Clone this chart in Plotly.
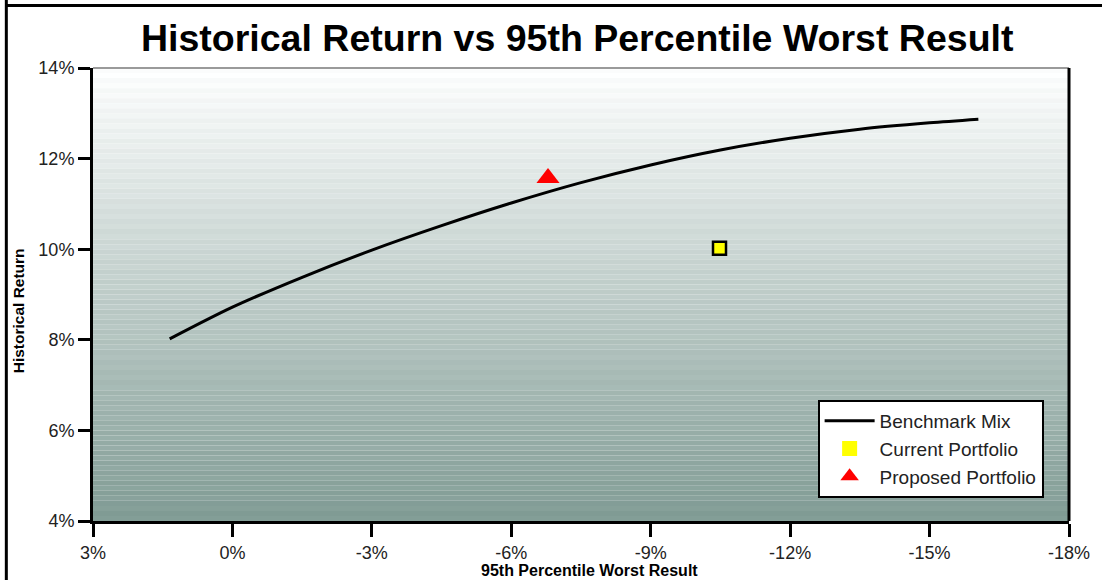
import plotly.graph_objects as go

# ---- data ----
bench_x = [1.35, 0.0, -1.5, -3.0, -4.5, -6.0, -7.5, -9.0, -10.5, -12.0, -13.5, -15.0, -16.05]
bench_y = [8.02, 8.72, 9.38, 9.98, 10.52, 11.02, 11.47, 11.86, 12.19, 12.45, 12.65, 12.79, 12.87]
current_x = [-10.48]
current_y = [10.02]
proposed_x = [-6.79]
proposed_y = [11.57]

x_ticks = [3, 0, -3, -6, -9, -12, -15, -18]
x_labels = ["3%", "0%", "-3%", "-6%", "-9%", "-12%", "-15%", "-18%"]
y_ticks = [4, 6, 8, 10, 12, 14]
y_labels = ["4%", "6%", "8%", "10%", "12%", "14%"]

FONT = "Liberation Sans, Arial, Helvetica, sans-serif"

fig = go.Figure()
fig.add_trace(go.Scatter(x=bench_x, y=bench_y, mode="lines", name="Benchmark Mix",
                         line=dict(color="black", width=3, shape="spline", smoothing=0.8)))
fig.add_trace(go.Scatter(x=current_x, y=current_y, mode="markers", name="Current Portfolio",
                         showlegend=False,
                         marker=dict(symbol="square", size=13, color="#ffff00",
                                     line=dict(color="black", width=2.5))))
fig.add_trace(go.Scatter(x=proposed_x, y=proposed_y, mode="markers", name="Proposed Portfolio",
                         showlegend=False,
                         marker=dict(symbol="triangle-up", size=20, color="#ff0000",
                                     line=dict(width=0))))
# legend entries (legend styling only)
fig.add_trace(go.Scatter(x=[None], y=[None], mode="markers", name="Current Portfolio",
                         marker=dict(symbol="square", size=15, color="#ffff00", line=dict(width=0))))
fig.add_trace(go.Scatter(x=[None], y=[None], mode="markers", name="Proposed Portfolio",
                         marker=dict(symbol="triangle-up", size=18, color="#ff0000", line=dict(width=0))))

# gradient background bands (style only)
shapes = []
n = 90
top = (251, 252, 252)
bot = (127, 154, 147)
for i in range(n):
    t = i / (n - 1)
    c = tuple(int(round(top[k] + (bot[k] - top[k]) * t)) for k in range(3))
    if i % 2 == 1:
        c = tuple(min(255, v + 4) for v in c)
    shapes.append(dict(type="rect", xref="paper", yref="paper", layer="below",
                       x0=0, x1=1, y0=1 - (i + 1) / n, y1=1 - i / n,
                       fillcolor="rgb(%d,%d,%d)" % c, line=dict(width=0)))
# plot frame: top gray, right black
shapes.append(dict(type="line", xref="paper", yref="paper", x0=0, x1=1, y0=1, y1=1,
                   line=dict(color="#9a9a9a", width=2)))
shapes.append(dict(type="line", xref="paper", yref="paper", x0=1, x1=1, y0=0, y1=1,
                   line=dict(color="black", width=3)))
# outer frame (left & top)
shapes.append(dict(type="line", xref="paper", yref="paper", x0=-0.0888, x1=-0.0888, y0=-0.14, y1=1.15,
                   line=dict(color="black", width=3)))
shapes.append(dict(type="line", xref="paper", yref="paper", x0=-0.0888, x1=1.04, y0=1.138, y1=1.138,
                   line=dict(color="black", width=3)))

fig.update_layout(
    width=1102, height=580,
    margin=dict(l=93, r=29, t=68, b=59),
    paper_bgcolor="white",
    plot_bgcolor="rgba(0,0,0,0)",
    font=dict(family=FONT, size=18, color="#222"),
    shapes=shapes,
    showlegend=True,
    legend=dict(x=0.974, y=0.051, xanchor="right", yanchor="bottom",
                bgcolor="white", bordercolor="black", borderwidth=2,
                font=dict(family=FONT, size=19, color="#222"),
                itemwidth=50, tracegroupgap=0),
    annotations=[
        dict(text="<b>Historical Return vs 95th Percentile Worst Result</b>", xref="paper", yref="paper",
             x=0.496, y=1.0 + (68 - 38) / 453, xanchor="center", yanchor="middle", showarrow=False,
             font=dict(family=FONT, size=37.5, color="black")),
        dict(text="<b>95th Percentile Worst Result</b>", xref="paper", yref="paper",
             x=(592 - 93) / 980, y=-(570 - 521) / 453, xanchor="center", yanchor="middle", showarrow=False,
             font=dict(family=FONT, size=16, color="black")),
        dict(text="<b>Historical Return</b>", xref="paper", yref="paper", textangle=-90,
             x=-(93 - 18) / 980, y=(521 - 311) / 453, xanchor="center", yanchor="middle", showarrow=False,
             font=dict(family=FONT, size=15.5, color="black")),
    ],
)
fig.update_xaxes(range=[3, -18], tickvals=x_ticks, ticktext=x_labels, showgrid=False, zeroline=False,
                 showline=True, linecolor="black", linewidth=3, ticks="outside", ticklen=13,
                 tickwidth=3, tickcolor="black", tickfont=dict(size=18, color="#222"))
fig.update_yaxes(range=[4, 14], tickvals=y_ticks, ticktext=y_labels, showgrid=False, zeroline=False,
                 showline=True, linecolor="black", linewidth=3, ticks="outside", ticklen=12,
                 tickwidth=3, tickcolor="black", tickfont=dict(size=18, color="#222"))

fig.write_html("out.html", config={"displayModeBar": False},
               post_script="document.body.style.margin='0px';")
